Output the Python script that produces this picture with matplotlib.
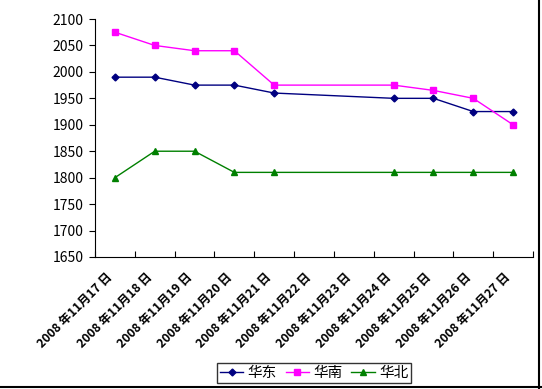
import matplotlib.pyplot as plt
import matplotlib.transforms as mtransforms
import numpy as np

plt.rcParams['font.family'] = ['Noto Sans CJK SC', 'DejaVu Sans']

# dates on the category axis (17th to 27th)
dates = ['2008 年11月%d 日' % d for d in range(17, 28)]
# days with prices (no quotes on 22nd / 23rd)
days = [17, 18, 19, 20, 21, 24, 25, 26, 27]

huadong = [1990, 1990, 1975, 1975, 1960, 1950, 1950, 1925, 1925]
huanan = [2075, 2050, 2040, 2040, 1975, 1975, 1965, 1950, 1900]
huabei = [1800, 1850, 1850, 1810, 1810, 1810, 1810, 1810, 1810]

fig = plt.figure(figsize=(5.42, 3.89), dpi=100)
ax = fig.add_axes([95 / 542, 1 - 257 / 389, 438 / 542, 238 / 389])

x = np.array(days) - 17
ax.plot(x, huadong, color='#000080', marker='D', markersize=3.5, lw=1, label='华东')
ax.plot(x, huanan, color='#FF00FF', marker='s', markersize=5, lw=1, label='华南')
ax.plot(x, huabei, color='#008000', marker='^', markersize=5, lw=1, label='华北')

ax.set_xlim(-0.5, len(dates) - 0.5)
ax.set_ylim(1650, 2100)
ax.set_yticks(np.arange(1650, 2101, 50))
ax.tick_params(axis='y', direction='out', length=4, labelsize=10, pad=4)
ax.set_xticks(np.arange(len(dates) + 1) - 0.5, minor=False)
ax.set_xticklabels([])
ax.tick_params(axis='x', direction='in', length=4)
ax.set_xticks(np.arange(len(dates)), minor=True)
ax.set_xticklabels(dates, minor=True, rotation=45, ha='right',
                   rotation_mode='anchor', fontsize=8.8, fontweight='bold')
ax.tick_params(axis='x', which='minor', length=0, pad=10)
shift = mtransforms.ScaledTranslation(-9 / 100, 0, fig.dpi_scale_trans)
for lbl in ax.get_xticklabels(minor=True):
    lbl.set_transform(lbl.get_transform() + shift)
ax.spines['top'].set_visible(False)
ax.spines['right'].set_visible(False)

leg = ax.legend(loc='upper left', bbox_to_anchor=(217 / 542, 1 - 363 / 389),
                bbox_transform=fig.transFigure, ncol=3, frameon=True,
                fancybox=False, edgecolor='black', fontsize=10.5,
                handlelength=1.6, handletextpad=0.3, columnspacing=0.6,
                borderpad=0.2, borderaxespad=0)
leg.get_frame().set_linewidth(1)

# outer chart border (right and bottom visible)
fig.add_artist(plt.Line2D([539 / 542, 539 / 542], [0, 1], color='black', lw=1.5,
                          transform=fig.transFigure))
fig.add_artist(plt.Line2D([0, 1], [1 - 387 / 389, 1 - 387 / 389], color='black',
                          lw=1.5, transform=fig.transFigure))

fig.savefig('out.png', dpi=100)
